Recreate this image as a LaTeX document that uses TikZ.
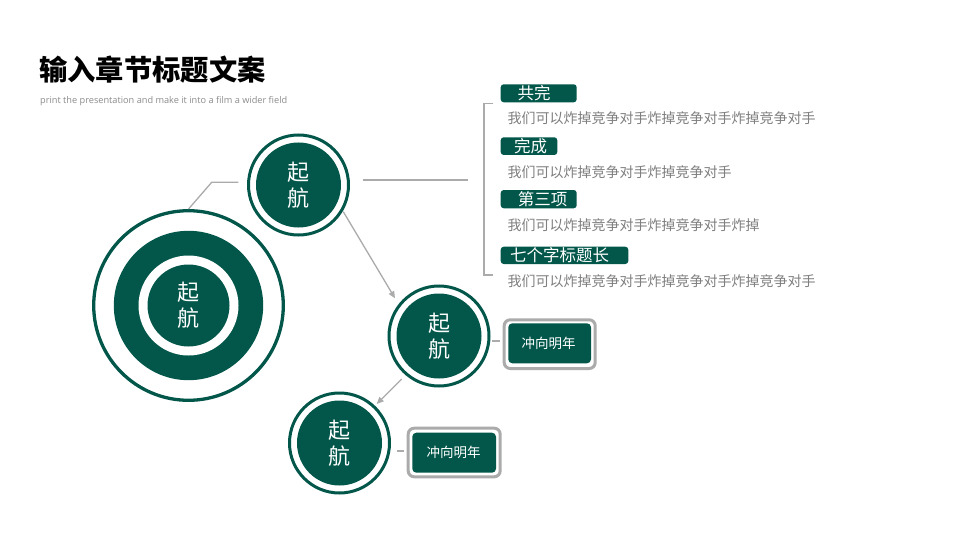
\documentclass[tikz,border=0pt]{standalone}
\usepackage{fontspec}
\setmainfont{Open Sans}
\newfontfamily\cjk{Noto Sans CJK SC}
\usetikzlibrary{arrows.meta}
\definecolor{dg}{HTML}{02574A}
\definecolor{lg}{HTML}{ABABAB}
\definecolor{tg}{HTML}{7F7F7F}
\definecolor{sg}{HTML}{8C8C8C}
\tikzset{
  ringc/.style={circle, draw=dg, line width=3pt, fill=white, minimum size=100pt, inner sep=0pt},
  discc/.style={circle, fill=dg, minimum size=85pt, inner sep=0pt, text=white, align=center, font=\cjk\fontsize{22}{26}\selectfont},
  conn/.style={draw=lg, line width=1.3pt},
  arr/.style={conn, -{Triangle[length=7pt,width=6pt]}},
  lab/.style={fill=dg, rounded corners=3pt},
  labtxt/.style={text=white, font=\cjk\fontsize{16.5}{18}\selectfont, inner sep=0pt},
  desc/.style={anchor=west, text=tg, font=\cjk\fontsize{14}{16}\selectfont, inner sep=0pt},
  gbox/.style={draw=lg, line width=3pt, fill=white, rounded corners=6pt},
  ibox/.style={fill=dg, rounded corners=4pt},
  boxtxt/.style={text=white, font=\cjk\fontsize{13.5}{15}\selectfont, inner sep=0pt}
}
\begin{document}
\begin{tikzpicture}[x=1pt,y=-1pt]
\useasboundingbox (0,0) rectangle (960,540);
\fill[white] (0,0) rectangle (960,540);

% title
\node[anchor=west, inner sep=0pt, font=\cjk\bfseries\fontsize{28.3}{30}\selectfont] (title) at (39,70) {输入章节标题文案};
\node[anchor=west, inner sep=0pt, text=sg, font=\fontsize{9.2}{11}\selectfont] (sub) at (40,101) {print the presentation and make it into a film a wider field};

% big circle
\node[circle, draw=dg, line width=3.3pt, minimum size=189.6pt, inner sep=0pt] (big) at (188.5,305.5) {};
\node[circle, fill=dg, minimum size=149.4pt, inner sep=0pt] (bigd) at (big.center) {};
\node[circle, fill=white, minimum size=100pt, inner sep=0pt] (bigw) at (big.center) {};
\node[discc, minimum size=82pt] (bigt) at (big.center) {起\\航};

% small circles
\node[ringc] (c1) at (298.5,185) {};
\node[discc] (c1t) at (c1.center) {起\\航};
\node[ringc] (c2) at (439,336) {};
\node[discc] (c2t) at (c2.center) {起\\航};
\node[ringc] (c3) at (339.5,443) {};
\node[discc] (c3t) at (c3.center) {起\\航};

% connectors
\coordinate (k1) at (211.7,182.3);
\coordinate (k2) at (238.3,182.3);
\draw[conn] (big.north) -- (k1) -- (k2);
\coordinate (h1) at (362.7,180);
\coordinate (h2) at (468.3,180);
\draw[conn] (h1) -- (h2);
\coordinate (a1) at (343.3,211.7);
\coordinate (a2) at (395,298.3);
\draw[arr] (a1) -- (a2);
\coordinate (b1) at (401.7,379);
\coordinate (b2) at (376.7,404);
\draw[arr] (b1) -- (b2);

% bracket
\coordinate (br1) at (493.3,103.3);
\coordinate (br2) at (484,103.3);
\coordinate (br3) at (484,275);
\coordinate (br4) at (493.3,275);
\draw[conn] (br1) -- (br2) -- (br3) -- (br4);

% labels
\path[lab] (500.7,84.3) rectangle (576.7,102.3);
\node[labtxt] (l1) at (534,92.8) {共完};
\node[desc] (d1) at (507.5,118.5) {我们可以炸掉竞争对手炸掉竞争对手炸掉竞争对手};
\path[lab] (500.7,137.3) rectangle (557.3,155);
\node[labtxt] (l2) at (530.5,146.3) {完成};
\node[desc] (d2) at (507.5,171.7) {我们可以炸掉竞争对手炸掉竞争对手};
\path[lab] (500.7,190) rectangle (576.7,208.3);
\node[labtxt] (l3) at (542.5,199.3) {第三项};
\node[desc] (d3) at (507.5,225) {我们可以炸掉竞争对手炸掉竞争对手炸掉};
\path[lab] (500.7,246.7) rectangle (628.3,264);
\node[labtxt] (l4) at (559.5,255.6) {七个字标题长};
\node[desc] (d4) at (507.5,281) {我们可以炸掉竞争对手炸掉竞争对手炸掉竞争对手};

% boxes
\path[gbox] (504.2,319.8) rectangle (595.2,368.5);
\path[ibox] (508.3,323.3) rectangle (591,363.3);
\node[boxtxt] (t1) at (548.5,343.3) {冲向明年};
\path[gbox] (408.2,428.2) rectangle (500.2,476.8);
\path[ibox] (412.3,432.7) rectangle (496,472.7);
\node[boxtxt] (t2) at (453.5,452.7) {冲向明年};

\coordinate (e1) at (492,341);
\coordinate (e2) at (500,341);
\draw[conn] (e1) -- (e2);
\coordinate (f1) at (397,451);
\coordinate (f2) at (404,451);
\draw[conn] (f1) -- (f2);
\end{tikzpicture}
\end{document}
